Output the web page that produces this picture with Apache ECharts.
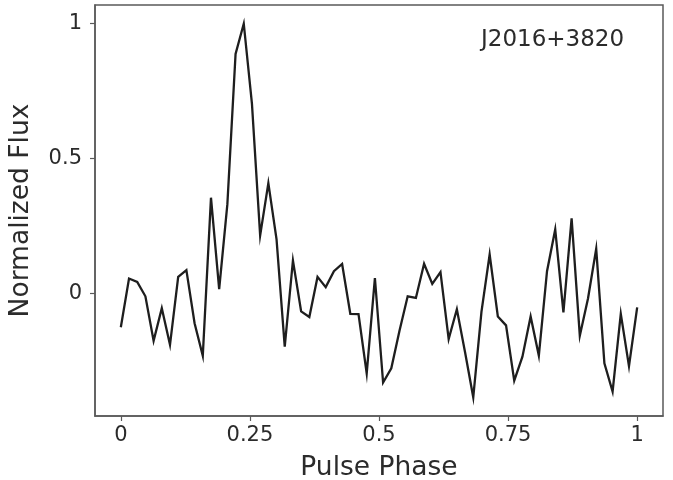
<!DOCTYPE html>
<html>
<head>
<meta charset="utf-8">
<script src="https://cdn.jsdelivr.net/npm/echarts@6/dist/echarts.min.js"></script>
<style>
  html, body { margin: 0; padding: 0; background: #ffffff; }
  #chart { width: 673px; height: 480px; }
</style>
</head>
<body>
<div id="chart"></div>
<script>
// Folded pulse profile of J2016+3820, 64 phase bins over one rotation
const sourceName = 'J2016+3820';
const flux = [
  -0.127, 0.054, 0.041, -0.012, -0.177, -0.056, -0.192, 0.060,
   0.085, -0.112, -0.233, 0.354, 0.015, 0.330, 0.888, 1.000,
   0.702, 0.214, 0.408, 0.199, -0.199, 0.121, -0.068, -0.089,
   0.060, 0.022, 0.081, 0.108, -0.077, -0.078, -0.298, 0.056,
  -0.332, -0.279, -0.140, -0.012, -0.018, 0.109, 0.034, 0.078,
  -0.171, -0.060, -0.220, -0.387, -0.070, 0.143, -0.087, -0.120,
  -0.325, -0.236, -0.087, -0.232, 0.081, 0.236, -0.072, 0.277,
  -0.158, -0.020, 0.164, -0.261, -0.366, -0.077, -0.271, -0.053
];
const xTicks = [0, 0.25, 0.5, 0.75, 1];
const yTicks = [0, 0.5, 1];
const xTitle = 'Pulse Phase';
const yTitle = 'Normalized Flux';

// Phase of each bin, spanning 0..1
const points = flux.map((v, i) => [i / (flux.length - 1), v]);

// 5% padding around the data range on both axes
const yLo = Math.min(...flux), yHi = Math.max(...flux);
const yPad = (yHi - yLo) * 0.05;

const FONT = 'DejaVu Sans';
const TEXT = '#2b2b2b';
const FRAME = '#5a5a5a';

const chart = echarts.init(document.getElementById('chart'), null, { renderer: 'canvas' });
chart.setOption({
  animation: false,
  backgroundColor: '#ffffff',
  grid: {
    left: 95, right: 10, top: 5, bottom: 64,
    containLabel: false,
    outerBoundsMode: 'none',
    show: true, borderColor: FRAME, borderWidth: 1.5, backgroundColor: 'transparent'
  },
  xAxis: {
    type: 'value',
    min: -0.05, max: 1.05,
    name: xTitle,
    nameLocation: 'middle',
    nameGap: 39,
    nameTextStyle: { fontFamily: FONT, fontSize: 26.5, color: TEXT },
    axisLine: { show: true, onZero: false, lineStyle: { color: FRAME, width: 1.5 } },
    axisTick: { show: true, length: 5, inside: false, customValues: xTicks,
                lineStyle: { color: FRAME, width: 1.2 } },
    axisLabel: { show: true, customValues: xTicks, margin: 9,
                 fontFamily: FONT, fontSize: 21, color: TEXT,
                 formatter: v => String(v) },
    splitLine: { show: false }
  },
  yAxis: {
    type: 'value',
    min: yLo - yPad, max: yHi + yPad,
    name: yTitle,
    nameLocation: 'middle',
    nameGap: 60,
    nameRotate: 90,
    nameTextStyle: { fontFamily: FONT, fontSize: 26.5, color: TEXT },
    axisLine: { show: true, onZero: false, lineStyle: { color: FRAME, width: 1.5 } },
    axisTick: { show: true, length: 5, inside: false, customValues: yTicks,
                lineStyle: { color: FRAME, width: 1.2 } },
    axisLabel: { show: true, customValues: yTicks, margin: 13,
                 fontFamily: FONT, fontSize: 21, color: TEXT,
                 formatter: v => String(v) },
    splitLine: { show: false }
  },
  graphic: [{
    type: 'text',
    left: 481, top: 29,
    style: { text: sourceName, font: '23px "DejaVu Sans"', fill: TEXT }
  }],
  series: [{
    type: 'line',
    data: points,
    showSymbol: false,
    lineStyle: { color: '#1e1e1e', width: 2.3, join: 'miter' },
    emphasis: { disabled: true }
  }]
});
</script>
</body>
</html>
